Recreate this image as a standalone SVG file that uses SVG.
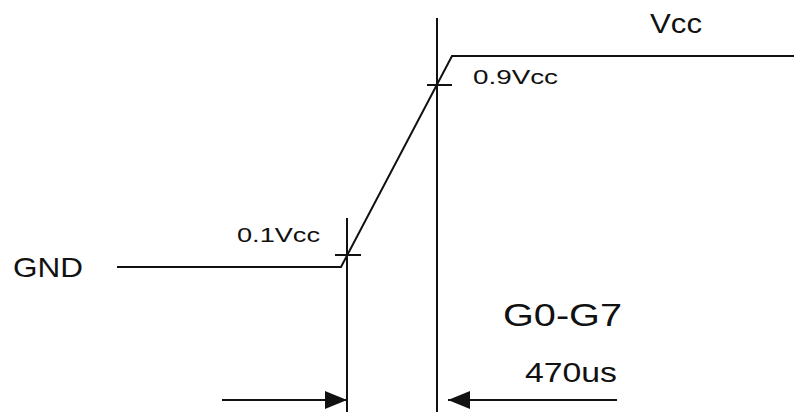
<svg xmlns="http://www.w3.org/2000/svg" width="794" height="418" viewBox="0 0 794 418">
  <defs>
    <style>
      .ln { stroke: #111; stroke-width: 2; fill: none; }
      .tx { font-family: "Liberation Sans", Arial, sans-serif; fill: #111; }
    </style>
    <marker id="ah" markerUnits="userSpaceOnUse" markerWidth="22" markerHeight="18" refX="22" refY="9" orient="auto">
      <path d="M0,0 L22,9 L0,18 z" fill="#111"/>
    </marker>
  </defs>
  <rect width="794" height="418" fill="#fff"/>
  <g id="waveform">
    <polyline class="ln" points="117,267 341,267 452,56 794,56"/>
  </g>
  <g id="guides">
    <line class="ln" x1="347" y1="218" x2="347" y2="412"/>
    <line class="ln" x1="437" y1="18" x2="437" y2="412"/>
    <line class="ln" x1="335" y1="255" x2="361" y2="255"/>
    <line class="ln" x1="427" y1="85" x2="452" y2="85"/>
  </g>
  <g id="connectors">
    <line class="ln" x1="222" y1="400" x2="347" y2="400" marker-end="url(#ah)"/>
    <line class="ln" x1="617" y1="400" x2="448" y2="400" marker-end="url(#ah)"/>
  </g>
  <g id="labels">
    <text class="tx" x="13" y="277" font-size="28" textLength="70" lengthAdjust="spacingAndGlyphs">GND</text>
    <text class="tx" x="650" y="33" font-size="28" textLength="52" lengthAdjust="spacingAndGlyphs">Vcc</text>
    <text class="tx" x="237" y="242" font-size="21" textLength="83" lengthAdjust="spacingAndGlyphs">0.1Vcc</text>
    <text class="tx" x="473" y="84" font-size="21" textLength="85" lengthAdjust="spacingAndGlyphs">0.9Vcc</text>
    <text class="tx" x="503" y="326" font-size="31" textLength="119" lengthAdjust="spacingAndGlyphs">G0-G7</text>
    <text class="tx" x="525" y="382" font-size="28" textLength="92" lengthAdjust="spacingAndGlyphs">470us</text>
  </g>
</svg>
